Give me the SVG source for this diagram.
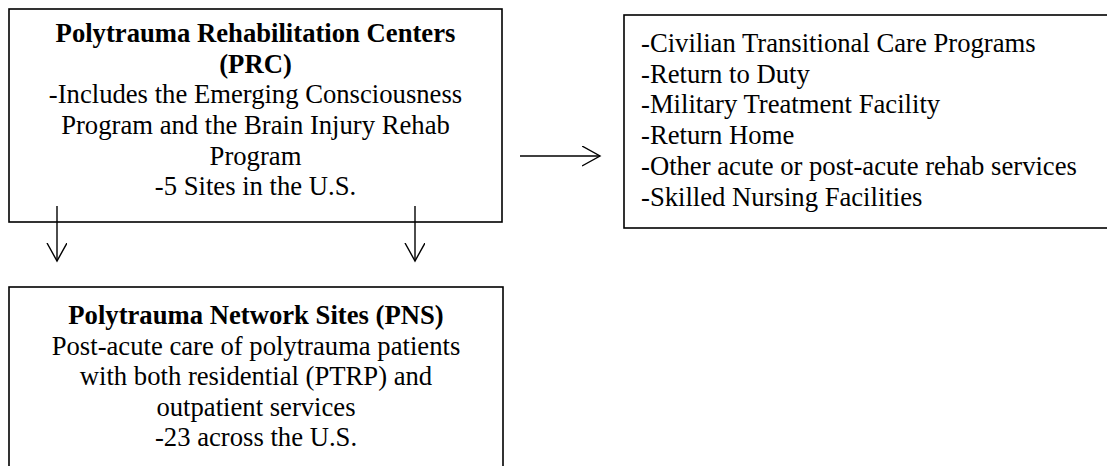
<svg xmlns="http://www.w3.org/2000/svg" width="1107" height="466" viewBox="0 0 1107 466">
  <style>
    .box { fill: #ffffff; stroke: #000000; stroke-width: 1.6; }
    .t { font-family: "Liberation Serif", "Times New Roman", serif; font-size: 26.67px; fill: #000000; }
    .c { text-anchor: middle; }
    .b { font-weight: bold; }
    .conn { fill: none; stroke: #000000; stroke-width: 1.4; stroke-linecap: butt; stroke-linejoin: miter; }
  </style>
  <defs>
    <marker id="chev" markerUnits="userSpaceOnUse" markerWidth="24" markerHeight="24" refX="18" refY="10" orient="auto" viewBox="0 0 24 24">
      <path d="M0,0 L18,10 L0,20" fill="none" stroke="#000000" stroke-width="1.4"/>
    </marker>
  </defs>
  <rect width="1107" height="466" fill="#ffffff"/>

  <g id="node-prc">
    <rect class="box" x="9" y="9" width="493" height="213"/>
    <text class="t c b" x="255.5" y="42">Polytrauma Rehabilitation Centers</text>
    <text class="t c b" x="255.5" y="72.5">(PRC)</text>
    <text class="t c" x="255.5" y="103">-Includes the Emerging Consciousness</text>
    <text class="t c" x="255.5" y="134">Program and the Brain Injury Rehab</text>
    <text class="t c" x="255.5" y="164.5">Program</text>
    <text class="t c" x="255.5" y="195">-5 Sites in the U.S.</text>
  </g>

  <g id="node-destinations">
    <rect class="box" x="624" y="15" width="500" height="213"/>
    <text class="t" x="641" y="52">-Civilian Transitional Care Programs</text>
    <text class="t" x="641" y="82.7">-Return to Duty</text>
    <text class="t" x="641" y="113.4">-Military Treatment Facility</text>
    <text class="t" x="641" y="144">-Return Home</text>
    <text class="t" x="641" y="174.8">-Other acute or post-acute rehab services</text>
    <text class="t" x="641" y="205.5">-Skilled Nursing Facilities</text>
  </g>

  <g id="node-pns">
    <rect class="box" x="9" y="287" width="494" height="220"/>
    <text class="t c b" x="256" y="324">Polytrauma Network Sites (PNS)</text>
    <text class="t c" x="256" y="355">Post-acute care of polytrauma patients</text>
    <text class="t c" x="256" y="385">with both residential (PTRP) and</text>
    <text class="t c" x="256" y="416">outpatient services</text>
    <text class="t c" x="256" y="446">-23 across the U.S.</text>
  </g>

  <g id="connectors">
    <line class="conn" x1="520" y1="156" x2="600" y2="156" marker-end="url(#chev)"/>
    <line class="conn" x1="57" y1="206" x2="57" y2="261" marker-end="url(#chev)"/>
    <line class="conn" x1="415" y1="206" x2="415" y2="261" marker-end="url(#chev)"/>
  </g>
</svg>
